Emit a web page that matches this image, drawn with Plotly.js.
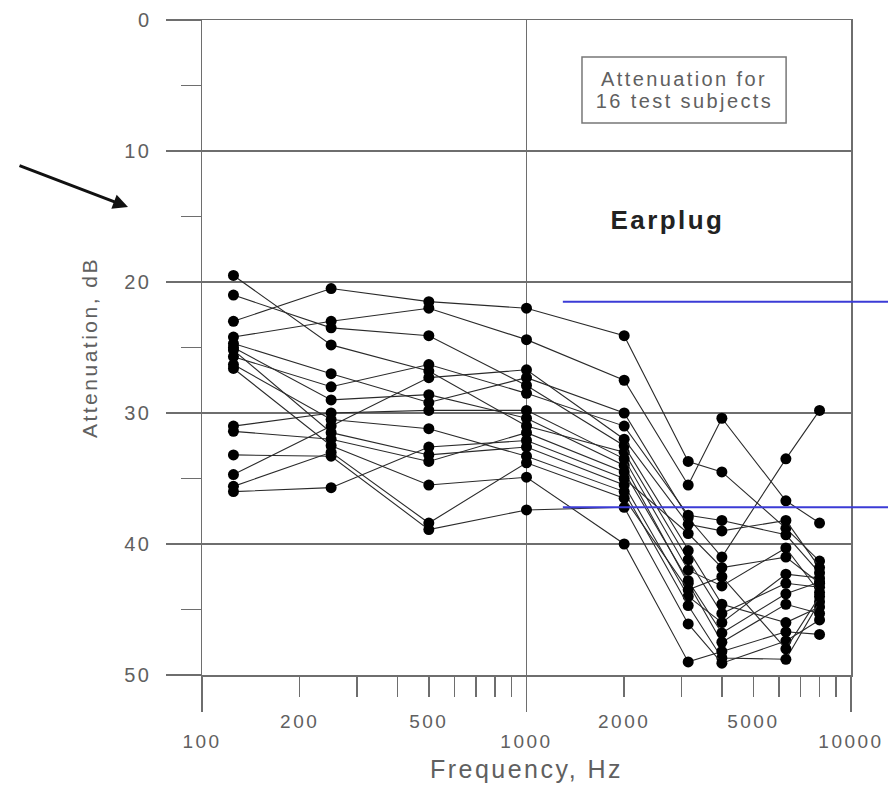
<!DOCTYPE html>
<html>
<head>
<meta charset="utf-8">
<script src="https://cdn.plot.ly/plotly-3.0.1.min.js"></script>
<style>
html,body{margin:0;padding:0;background:#fff;}
#chart{width:888px;height:795px;}
.xtick text,.x2tick text,.ytick text,text.xtitle,text.ytitle{letter-spacing:2.5px;}
g.annotation text{letter-spacing:2.4px;}
</style>
</head>
<body>
<div id="chart"></div>
<script>
// Test frequencies (Hz)
const freqs = [125, 250, 500, 1000, 2000, 3150, 4000, 6300, 8000];

// Attenuation (dB) for each of the 16 test subjects
const subject01 = [19.5, 24.8, 26.8, 31.0, 33.0, 41.2, 45.3, 43.0, 43.3];
const subject02 = [21.0, 23.5, 24.1, 27.9, 32.5, 40.5, 44.6, 46.0, 44.8];
const subject03 = [23.0, 20.5, 21.5, 22.0, 24.1, 33.7, 34.5, 38.8, 41.3];
const subject04 = [24.2, 23.0, 22.0, 24.4, 27.5, 35.5, 30.4, 36.7, 38.4];
const subject05 = [24.7, 27.0, 29.2, 27.3, 30.0, 38.0, 41.0, 33.5, 29.8];
const subject06 = [25.0, 29.0, 28.6, 30.4, 34.0, 43.0, 47.5, 44.6, 45.3];
const subject07 = [25.2, 31.5, 33.2, 32.6, 35.5, 44.0, 46.0, 42.3, 42.6];
const subject08 = [25.7, 28.0, 26.3, 28.5, 31.0, 37.8, 38.2, 39.3, 42.2];
const subject09 = [26.3, 30.5, 31.2, 33.3, 36.0, 44.7, 48.7, 48.8, 44.4];
const subject10 = [26.6, 32.5, 35.5, 34.9, 40.0, 49.0, 48.2, 46.7, 46.9];
const subject11 = [31.0, 30.0, 29.8, 29.8, 33.5, 42.0, 43.2, 40.3, 43.7];
const subject12 = [31.4, 32.0, 33.7, 31.5, 34.5, 42.8, 46.8, 43.8, 42.9];
const subject13 = [33.2, 33.3, 38.9, 37.4, 37.2, 46.1, 49.1, 47.4, 45.8];
const subject14 = [34.7, 31.0, 27.3, 26.7, 32.0, 38.5, 39.0, 38.2, 41.8];
const subject15 = [35.6, 33.0, 38.4, 33.8, 36.5, 43.5, 42.5, 48.0, 44.0];
const subject16 = [36.0, 35.7, 32.6, 32.1, 35.0, 39.2, 41.8, 41.0, 43.0];

const subjects = [subject01, subject02, subject03, subject04, subject05, subject06,
  subject07, subject08, subject09, subject10, subject11, subject12, subject13,
  subject14, subject15, subject16];

// Axis ticks
const majorFreqTicks = [100, 1000, 10000];
const majorFreqLabels = ['100', '1000', '10000'];
const midFreqTicks = [200, 500, 2000, 5000];
const midFreqLabels = ['200', '500', '2000', '5000'];
const minorFreqTicks = [200, 300, 400, 500, 600, 700, 800, 900, 2000, 3000, 4000, 5000, 6000, 7000, 8000, 9000];
const attTicks = [0, 10, 20, 30, 40, 50];
const attMinorTicks = [5, 15, 25, 35, 45];

// Reference levels (blue lines), dB
const refLevels = [21.5, 37.2];

const FONT = '"Liberation Sans", Arial, sans-serif';
const GRID = '#6e6e6e';
const TXT = '#606060';

const traces = subjects.map((s, i) => ({
  x: freqs, y: s, type: 'scatter', mode: 'lines+markers',
  name: 'Subject ' + (i + 1),
  line: {color: '#2a2a2a', width: 1.1},
  marker: {color: '#000', size: 11},
  xaxis: 'x', yaxis: 'y', showlegend: false, cliponaxis: false
}));
traces.push({x: [200], y: [null], xaxis: 'x2', yaxis: 'y', mode: 'markers', showlegend: false, hoverinfo: 'skip'});

const layout = {
  width: 888, height: 795,
  margin: {l: 202, r: 37, t: 20, b: 120},
  paper_bgcolor: '#fff', plot_bgcolor: '#fff',
  showlegend: false,
  font: {family: FONT, color: TXT, size: 20},
  xaxis: {
    type: 'log', range: [2, 4],
    tickmode: 'array', tickvals: majorFreqTicks, ticktext: majorFreqLabels,
    ticks: 'outside', ticklen: 35, tickwidth: 1.5, tickcolor: GRID,
    ticklabelstandoff: 14,
    showgrid: true, gridcolor: GRID, gridwidth: 1.5,
    showline: true, linecolor: GRID, linewidth: 1.5, mirror: true,
    zeroline: false,
    minor: {tickmode: 'array', tickvals: minorFreqTicks, ticks: 'outside', ticklen: 20, tickwidth: 1.5, tickcolor: GRID, showgrid: false},
    tickfont: {family: FONT, size: 19, color: TXT},
    title: {text: 'Frequency, Hz', font: {family: FONT, size: 25, color: TXT}, standoff: 9}
  },
  xaxis2: {
    type: 'log', range: [2, 4], overlaying: 'x', anchor: 'y', side: 'bottom',
    tickmode: 'array', tickvals: midFreqTicks, ticktext: midFreqLabels,
    ticks: '', ticklabelstandoff: 33,
    showgrid: false, showline: false, zeroline: false,
    tickfont: {family: FONT, size: 19, color: TXT}
  },
  yaxis: {
    range: [50, 0],
    tickmode: 'array', tickvals: attTicks,
    ticks: 'outside', ticklen: 35, tickwidth: 1.5, tickcolor: GRID,
    ticklabelstandoff: 10,
    showgrid: true, gridcolor: GRID, gridwidth: 1.5,
    showline: true, linecolor: GRID, linewidth: 1.5, mirror: true,
    zeroline: false,
    minor: {tickmode: 'array', tickvals: attMinorTicks, ticks: 'outside', ticklen: 20, tickwidth: 1.5, tickcolor: GRID, showgrid: false},
    tickfont: {family: FONT, size: 20, color: TXT},
    title: {text: 'Attenuation, dB', font: {family: FONT, size: 21, color: TXT}, standoff: 21}
  },
  shapes: refLevels.map(v => ({
    type: 'line', xref: 'paper', yref: 'y', x0: 0.556, x1: 1.06, y0: v, y1: v,
    line: {color: '#3b3bd6', width: 2}
  })).concat([
    {type: 'rect', xref: 'paper', yref: 'paper', x0: 0.5855, x1: 0.900, y0: 0.8427, y1: 0.9435,
     line: {color: '#777', width: 1.5}, fillcolor: 'rgba(0,0,0,0)'}
  ]),
  annotations: [
    {xref: 'paper', yref: 'paper', x: 0.7427, y: 0.9099, xanchor: 'center', yanchor: 'middle',
     showarrow: false, text: 'Attenuation for',
     font: {family: FONT, size: 20, color: TXT}},
    {xref: 'paper', yref: 'paper', x: 0.7427, y: 0.8763, xanchor: 'center', yanchor: 'middle',
     showarrow: false, text: '16 test subjects',
     font: {family: FONT, size: 20, color: TXT}},
    {xref: 'paper', yref: 'paper', x: 0.7165, y: 0.6947, xanchor: 'center', yanchor: 'middle',
     showarrow: false,
     text: '<b>Earplug</b>', font: {family: FONT, size: 26, color: '#222'}},
    {xref: 'paper', yref: 'paper', x: -0.114, y: 0.7145, text: '',
     showarrow: true, axref: 'pixel', ayref: 'pixel', ax: -110, ay: -42,
     arrowhead: 2, arrowsize: 1, arrowwidth: 3, arrowcolor: '#111'}
  ]
};

Plotly.newPlot('chart', traces, layout, {displayModeBar: false, staticPlot: true});
</script>
</body>
</html>
